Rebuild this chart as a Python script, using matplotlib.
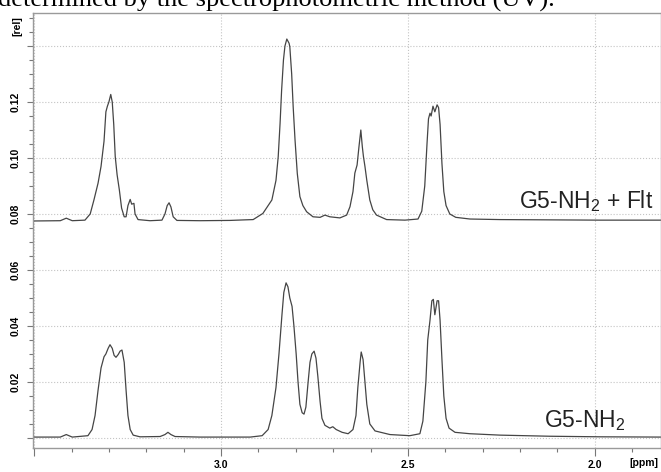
import matplotlib.pyplot as plt
from matplotlib.ticker import MultipleLocator

# spectrum traces: chemical shift (ppm) and intensity (rel)
ppm_flt = [3.503, 3.430, 3.414, 3.398, 3.364, 3.350, 3.340, 3.329, 3.321, 3.313,
           3.308, 3.304, 3.300, 3.295, 3.291, 3.287, 3.283, 3.278, 3.272, 3.266,
           3.259, 3.254, 3.249, 3.243, 3.239, 3.233, 3.230, 3.222, 3.190, 3.158,
           3.150, 3.144, 3.139, 3.134, 3.128, 3.118, 3.056, 2.976, 2.936, 2.914,
           2.888, 2.874, 2.864, 2.853, 2.847, 2.842, 2.838, 2.833, 2.829, 2.824,
           2.818, 2.816, 2.811, 2.807, 2.802, 2.796, 2.789, 2.781, 2.771, 2.754,
           2.735, 2.722, 2.709, 2.682, 2.664, 2.655, 2.647, 2.642, 2.636, 2.631,
           2.626, 2.622, 2.619, 2.615, 2.610, 2.602, 2.594, 2.584, 2.557, 2.508,
           2.473, 2.463, 2.455, 2.449, 2.445, 2.441, 2.438, 2.433, 2.428, 2.422,
           2.418, 2.414, 2.409, 2.404, 2.398, 2.388, 2.372, 2.334, 2.254, 2.120,
           1.987, 1.823]
int_flt = [0.0775, 0.0776, 0.0785, 0.0776, 0.0778, 0.0800, 0.0850, 0.0910, 0.0970, 0.1060,
           0.1165, 0.1185, 0.1200, 0.1227, 0.1200, 0.1120, 0.1005, 0.0940, 0.0886, 0.0821,
           0.0790, 0.0790, 0.0830, 0.0852, 0.0835, 0.0838, 0.0800, 0.0780, 0.0776, 0.0778,
           0.0800, 0.0830, 0.0840, 0.0825, 0.0790, 0.0777, 0.0776, 0.0777, 0.0779, 0.0780,
           0.0802, 0.0830, 0.0850, 0.0920, 0.1005, 0.1125, 0.1240, 0.1350, 0.1400, 0.1425,
           0.1410, 0.1398, 0.1300, 0.1183, 0.1064, 0.0945, 0.0862, 0.0830, 0.0808, 0.0790,
           0.0788, 0.0796, 0.0790, 0.0786, 0.0796, 0.0826, 0.0880, 0.0946, 0.0975, 0.1040,
           0.1100, 0.1040, 0.1005, 0.0970, 0.0920, 0.0850, 0.0815, 0.0796, 0.0780, 0.0778,
           0.0782, 0.0810, 0.0900, 0.1050, 0.1140, 0.1160, 0.1150, 0.1185, 0.1165, 0.1190,
           0.1180, 0.1120, 0.0980, 0.0880, 0.0830, 0.0800, 0.0788, 0.0782, 0.0780, 0.0779,
           0.0778, 0.0778]

ppm_g5 = [3.503, 3.430, 3.414, 3.398, 3.356, 3.345, 3.337, 3.329, 3.321, 3.313,
          3.308, 3.302, 3.297, 3.291, 3.286, 3.281, 3.275, 3.270, 3.265, 3.259,
          3.254, 3.249, 3.243, 3.235, 3.217, 3.163, 3.150, 3.142, 3.134, 3.123,
          3.056, 2.922, 2.890, 2.874, 2.864, 2.853, 2.845, 2.837, 2.832, 2.826,
          2.821, 2.816, 2.810, 2.805, 2.799, 2.794, 2.789, 2.783, 2.778, 2.773,
          2.767, 2.762, 2.757, 2.751, 2.746, 2.741, 2.735, 2.730, 2.722, 2.709,
          2.701, 2.692, 2.676, 2.660, 2.647, 2.639, 2.634, 2.628, 2.625, 2.620,
          2.615, 2.610, 2.602, 2.588, 2.548, 2.495, 2.468, 2.460, 2.452, 2.447,
          2.441, 2.436, 2.432, 2.428, 2.422, 2.418, 2.414, 2.409, 2.404, 2.398,
          2.390, 2.374, 2.334, 2.254, 2.120, 1.987, 1.823]
int_g5 = [0.0003, 0.0003, 0.0012, 0.0003, 0.0008, 0.0030, 0.0080, 0.0170, 0.0250, 0.0290,
          0.0300, 0.0320, 0.0333, 0.0320, 0.0295, 0.0288, 0.0298, 0.0310, 0.0314, 0.0270,
          0.0170, 0.0080, 0.0030, 0.0010, 0.0004, 0.0005, 0.0012, 0.0020, 0.0012, 0.0005,
          0.0003, 0.0003, 0.0008, 0.0030, 0.0080, 0.0180, 0.0300, 0.0440, 0.0520, 0.0554,
          0.0540, 0.0500, 0.0470, 0.0400, 0.0300, 0.0200, 0.0120, 0.0090, 0.0085, 0.0110,
          0.0200, 0.0270, 0.0300, 0.0310, 0.0285, 0.0220, 0.0130, 0.0070, 0.0045, 0.0035,
          0.0040, 0.0030, 0.0020, 0.0015, 0.0030, 0.0080, 0.0180, 0.0270, 0.0307, 0.0280,
          0.0200, 0.0120, 0.0050, 0.0025, 0.0012, 0.0008, 0.0015, 0.0060, 0.0200, 0.0350,
          0.0420, 0.0490, 0.0495, 0.0440, 0.0490, 0.0490, 0.0420, 0.0280, 0.0150, 0.0070,
          0.0035, 0.0020, 0.0015, 0.0010, 0.0006, 0.0004, 0.0003]

x_major = [3.5, 3.0, 2.5, 2.0]
x_labels = ['', '3.0', '2.5', '2.0']
y_major = [0.00, 0.02, 0.04, 0.06, 0.08, 0.10, 0.12, 0.14]
y_labels = ['', '0.02', '0.04', '0.06', '0.08', '0.10', '0.12', '']

plt.rcParams['font.family'] = ['Liberation Sans', 'DejaVu Sans']
plt.rcParams['mathtext.fontset'] = 'custom'
plt.rcParams['mathtext.rm'] = 'Liberation Sans'

fig = plt.figure(figsize=(6.61, 4.72), dpi=100)
ax = fig.add_axes([33/661, 24/472, 628/661, 435/472])

ax.plot(ppm_flt, int_flt, color='#454545', lw=0.9)
ax.plot(ppm_g5, int_g5, color='#454545', lw=0.9)

ax.set_xlim(3.503, 1.823)
ax.set_ylim(-0.0036, 0.1518)

ax.set_xticks(x_major)
ax.set_xticklabels(x_labels, fontsize=7.5, fontweight='bold')
ax.xaxis.set_minor_locator(MultipleLocator(0.1))
ax.set_yticks(y_major)
ax.set_yticklabels(y_labels, fontsize=7.5, fontweight='bold', rotation=90, va='center')
ax.yaxis.set_minor_locator(MultipleLocator(0.005))

ax.tick_params(which='major', direction='out', length=6, width=0.8, color='#777777', pad=3)
ax.tick_params(which='minor', direction='out', length=3, width=0.8, color='#777777')
ax.tick_params(axis='y', which='major', length=4, pad=5)

ax.grid(True, which='major', linestyle=':', color='#c4c4c4', lw=0.8)
for s in ax.spines.values():
    s.set_color('#9a9a9a')
    s.set_linewidth(1.0)

ax.text(0.987, 0.552, 'G5-NH$_\\mathregular{2}$ + Flt', transform=ax.transAxes,
        ha='right', va='baseline', fontsize=16.5, color='#222222')
ax.text(0.943, 0.048, 'G5-NH$_\\mathregular{2}$', transform=ax.transAxes,
        ha='right', va='baseline', fontsize=16.5, color='#222222')

fig.text(17/661, 1 - 26/472, '[rel]', rotation=90, ha='center', va='center',
         fontsize=7.5, fontweight='bold')
fig.text(644/661, 1 - 463/472, '[ppm]', ha='center', va='center',
         fontsize=7.5, fontweight='bold')

# cut-off line of the surrounding document text
fig.text(-2/661, 1 - 7/472, 'determined by the spectrophotometric method (UV).',
         family='Liberation Serif', fontsize=19, va='baseline', ha='left')

fig.savefig('out.png', dpi=100)
